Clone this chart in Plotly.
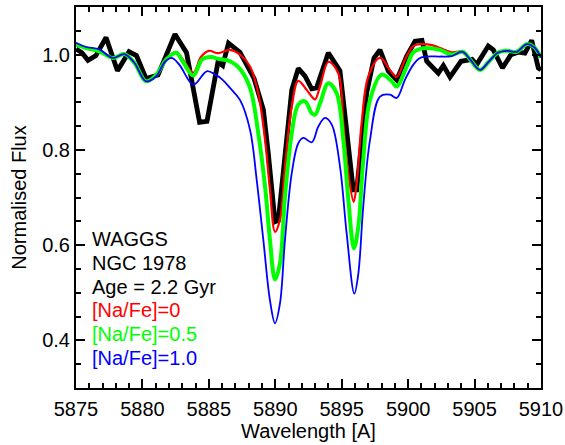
import plotly.graph_objects as go

# Observed WAGGS spectrum (black)
obs_wave = [5875.00, 5875.45, 5875.90, 5876.50, 5877.26, 5878.12, 5878.99, 5879.55,
            5880.27, 5881.17, 5882.45, 5883.32, 5884.30, 5884.86, 5885.69, 5886.04,
            5886.48, 5887.34, 5888.40, 5889.10, 5889.47, 5889.98, 5890.23, 5890.73,
            5891.24, 5891.73, 5892.24, 5892.74, 5893.10, 5893.99, 5894.87, 5895.87,
            5896.13, 5896.88, 5897.43, 5897.88, 5898.51, 5899.14, 5899.89, 5900.52,
            5901.04, 5901.40, 5902.27, 5902.65, 5903.15, 5903.98, 5904.81, 5905.16,
            5906.03, 5906.41, 5907.10, 5907.74, 5908.29, 5908.79, 5909.30, 5909.80,
            5910.00]
obs_flux = [1.012, 1.004, 0.988, 0.998, 1.036, 0.966, 1.006, 0.998,
            0.950, 0.957, 1.043, 1.004, 0.858, 0.860, 0.985, 0.977,
            1.024, 1.005, 0.950, 0.885, 0.794, 0.649, 0.652, 0.800,
            0.926, 0.971, 0.955, 0.928, 0.930, 1.004, 0.966, 0.716,
            0.716, 0.920, 0.993, 1.010, 0.965, 0.947, 0.997, 1.028,
            1.030, 0.986, 0.961, 0.977, 0.953, 0.986, 0.990, 0.979,
            1.018, 1.010, 0.972, 1.000, 1.005, 1.003, 1.030, 0.972,
            0.968]

# Model [Na/Fe]=0 (red)
red_wave = [5875.0, 5875.75, 5876.75, 5877.76, 5878.64, 5879.39, 5880.27, 5881.02,
            5881.8, 5882.5, 5883.05, 5883.83, 5884.4, 5885.0, 5885.69, 5886.59,
            5887.34, 5888.10, 5888.72, 5889.23, 5889.60, 5889.98, 5890.35, 5890.73,
            5891.24, 5891.73, 5892.36, 5892.74, 5893.0, 5893.37, 5894.0, 5894.74,
            5895.12, 5895.50, 5895.90, 5896.13, 5896.50, 5897.0, 5897.88, 5898.63,
            5899.14, 5899.76, 5900.39, 5901.0, 5901.8, 5902.4, 5903.28, 5904.1,
            5904.66, 5905.41, 5906.03, 5906.76, 5907.42, 5908.17, 5908.92, 5909.47,
            5910.0]
red_flux = [1.021, 1.014, 1.008, 0.993, 1.002, 0.983, 0.945, 0.956,
            0.990, 1.006, 0.990, 0.962, 0.995, 1.008, 1.003, 1.010,
            1.000, 0.975, 0.919, 0.821, 0.716, 0.628, 0.653, 0.765,
            0.891, 0.945, 0.926, 0.912, 0.906, 0.933, 0.985, 0.961,
            0.856, 0.750, 0.691, 0.730, 0.856, 0.954, 0.993, 0.968,
            0.953, 0.989, 1.018, 1.022, 1.020, 1.014, 1.005, 1.006,
            0.990, 0.968, 0.984, 1.004, 1.008, 1.006, 1.022, 1.016,
            0.994]

# Model [Na/Fe]=0.5 (green)
green_wave = [5875.0, 5875.75, 5876.75, 5877.76, 5878.64, 5879.39, 5880.27, 5881.02,
              5881.8, 5882.55, 5883.05, 5883.83, 5884.5, 5885.2, 5885.69, 5886.59,
              5887.34, 5888.10, 5888.72, 5889.23, 5889.60, 5889.98, 5890.35, 5890.73,
              5891.24, 5891.73, 5892.24, 5892.74, 5893.0, 5893.37, 5893.99, 5894.62,
              5895.12, 5895.50, 5895.92, 5896.25, 5896.62, 5897.13, 5898.01, 5898.76,
              5899.14, 5899.89, 5900.39, 5900.89, 5901.40, 5902.40, 5903.28, 5904.1,
              5904.66, 5905.41, 5906.03, 5906.76, 5907.42, 5908.17, 5908.92, 5909.47,
              5910.0]
green_flux = [1.021, 1.014, 1.007, 0.993, 1.001, 0.983, 0.944, 0.957,
              0.990, 1.004, 0.985, 0.956, 0.990, 0.995, 0.991, 0.986,
              0.970, 0.930, 0.835, 0.723, 0.611, 0.528, 0.561, 0.702,
              0.835, 0.895, 0.902, 0.877, 0.874, 0.898, 0.940, 0.919,
              0.821, 0.695, 0.593, 0.639, 0.779, 0.905, 0.958, 0.944,
              0.933, 0.975, 1.005, 1.012, 1.014, 1.010, 1.000, 1.006,
              0.990, 0.968, 0.984, 1.004, 1.008, 1.006, 1.022, 1.016,
              0.994]

# Model [Na/Fe]=1.0 (blue)
blue_wave = [5875.0, 5875.75, 5876.75, 5877.76, 5878.64, 5879.39, 5880.27, 5881.02,
             5881.7, 5882.2, 5882.8, 5883.83, 5884.84, 5885.5, 5886.04, 5886.59,
             5887.34, 5888.10, 5888.60, 5889.10, 5889.60, 5889.98, 5890.35, 5890.73,
             5891.24, 5891.73, 5892.11, 5892.75, 5893.24, 5893.74, 5894.25, 5894.87,
             5895.37, 5895.95, 5896.25, 5896.62, 5897.13, 5897.88, 5898.63, 5899.14,
             5899.76, 5900.39, 5900.89, 5901.40, 5902.40, 5903.28, 5904.1,
             5904.66, 5905.41, 5906.03, 5906.76, 5907.42, 5908.17, 5908.92, 5909.47,
             5910.0]
blue_flux = [1.025, 1.016, 1.011, 0.993, 1.001, 0.983, 0.944, 0.954,
             0.985, 0.993, 0.978, 0.937, 0.965, 0.958, 0.947, 0.930,
             0.905, 0.842, 0.737, 0.611, 0.484, 0.436, 0.477, 0.611,
             0.751, 0.814, 0.825, 0.816, 0.849, 0.867, 0.853, 0.765,
             0.625, 0.498, 0.540, 0.681, 0.821, 0.912, 0.916, 0.909,
             0.947, 0.979, 0.993, 0.996, 0.996, 0.997, 1.006,
             0.990, 0.968, 0.984, 1.004, 1.008, 1.006, 1.022, 1.016,
             0.994]

label_lines = ["WAGGS", "NGC 1978", "Age = 2.2 Gyr", "[Na/Fe]=0", "[Na/Fe]=0.5", "[Na/Fe]=1.0"]
label_colors = ["black", "black", "black", "#FF0000", "#00FF00", "#0000FF"]
label_y = [0.613, 0.563, 0.513, 0.463, 0.413, 0.363]

FONT = "Liberation Sans, Arial, Helvetica, sans-serif"

fig = go.Figure()
fig.add_trace(go.Scatter(x=obs_wave, y=obs_flux, mode="lines",
                         line=dict(color="black", width=4.8), showlegend=False))
fig.add_trace(go.Scatter(x=red_wave, y=red_flux, mode="lines",
                         line=dict(color="#FF0000", width=2.2, shape="spline", smoothing=1),
                         showlegend=False))
fig.add_trace(go.Scatter(x=green_wave, y=green_flux, mode="lines",
                         line=dict(color="#00FF00", width=4, shape="spline", smoothing=1),
                         showlegend=False))
fig.add_trace(go.Scatter(x=blue_wave, y=blue_flux, mode="lines",
                         line=dict(color="#0000FF", width=1.8, shape="spline", smoothing=1),
                         showlegend=False))

for txt, col, yy in zip(label_lines, label_colors, label_y):
    fig.add_annotation(x=0.03, xref="paper", y=yy, yref="y", text=txt,
                       showarrow=False, xanchor="left", yanchor="middle",
                       font=dict(family=FONT, size=20, color=col))

axis_common = dict(showline=True, linecolor="black", linewidth=2, mirror="ticks",
                   ticks="inside", ticklen=9, tickwidth=2, tickcolor="black",
                   showgrid=False, zeroline=False, automargin=False,
                   tickfont=dict(family=FONT, size=20, color="black"))

fig.update_xaxes(range=[5875, 5910], dtick=5, tick0=5875, ticklabelstandoff=2,
                 minor=dict(dtick=1, ticks="inside", ticklen=5, tickwidth=1.5,
                            tickcolor="black", showgrid=False),
                 title=dict(text="Wavelength [A]", font=dict(family=FONT, size=20, color="black"),
                            standoff=0),
                 **axis_common)
fig.update_yaxes(range=[0.3, 1.1], dtick=0.2, tick0=0, tickformat=".1f",
                 minor=dict(dtick=0.05, ticks="inside", ticklen=5, tickwidth=1.5,
                            tickcolor="black", showgrid=False),
                 title=dict(text="Normalised Flux", font=dict(family=FONT, size=20, color="black"),
                            standoff=10),
                 **axis_common)

fig.update_layout(width=565, height=445,
                  margin=dict(l=76, r=24, t=7, b=57, pad=0),
                  paper_bgcolor="white", plot_bgcolor="white",
                  font=dict(family=FONT, size=20, color="black"))

fig.write_html("out.html", config={"displayModeBar": False},
               post_script="document.body.style.margin='0';document.body.style.padding='0';")
